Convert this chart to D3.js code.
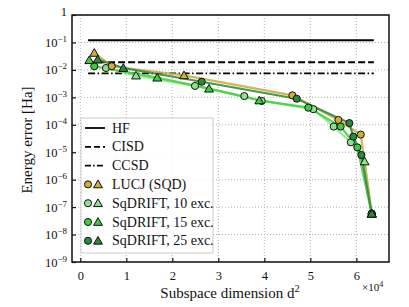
<!DOCTYPE html>
<html>
<head>
<meta charset="utf-8">
<script src="https://cdn.jsdelivr.net/npm/d3@7"></script>
<style>
  body { margin: 0; background: #fff; }
  svg text { font-family: "Liberation Serif", "Times New Roman", serif !important; fill: #111; }
</style>
</head>
<body>
<div id="chart"></div>
<script>
// reference energies (horizontal lines)
const refNames = ["HF", "CISD", "CCSD"];
const refValues = [0.12, 0.019, 0.0075];
const refSpan = [1700, 63800];

// LUCJ (SQD)
const lucjCircX = [6830, 46100, 56090, 60960, 63350];
const lucjCircY = [0.0136, 0.00118, 1.5e-4, 4.4e-5, 5.7e-8];
const lucjTriX = [3040, 22540, 63350];
const lucjTriY = [0.0416, 0.0063, 5.7e-8];

// SqDRIFT, 10 exc.
const sq10CircX = [5590, 24930, 35650, 39430, 50650, 55080, 58800, 63350];
const sq10CircY = [0.0117, 0.0026, 0.00111, 0.00074, 0.00037, 8.6e-5, 2.3e-5, 5.7e-8];
const sq10TriX = [12110, 61800, 63350];
const sq10TriY = [0.0062, 4.6e-6, 5.7e-8];

// SqDRIFT, 15 exc.
const sq15CircX = [3040, 49570, 56600, 60220, 63350];
const sq15CircY = [0.0136, 0.00042, 8.6e-5, 1.5e-5, 5.7e-8];
const sq15TriX = [1960, 16740, 27980, 38910, 63350];
const sq15TriY = [0.0225, 0.0052, 0.00207, 0.00077, 5.7e-8];

// SqDRIFT, 25 exc.
const sq25CircX = [26390, 47040, 58480, 59350, 61090, 63350];
const sq25CircY = [0.0037, 0.00089, 1.15e-4, 3.7e-5, 7.9e-6, 5.7e-8];
const sq25TriX = [3780, 9350, 63350];
const sq25TriY = [0.0238, 0.0117, 5.7e-8];

const xTicks = [0, 10000, 20000, 30000, 40000, 50000, 60000];
const yExps = [0, -1, -2, -3, -4, -5, -6, -7, -8, -9];

const series = [
  { name: "SqDRIFT, 10 exc.", color: "#8de38d", line: "#8ee68e", cx: sq10CircX, cy: sq10CircY, tx: sq10TriX, ty: sq10TriY },
  { name: "SqDRIFT, 15 exc.", color: "#3fcc3f", line: "#44d044", cx: sq15CircX, cy: sq15CircY, tx: sq15TriX, ty: sq15TriY },
  { name: "LUCJ (SQD)", color: "#d1ad3a", line: "#cdae42", cx: lucjCircX, cy: lucjCircY, tx: lucjTriX, ty: lucjTriY },
  { name: "SqDRIFT, 25 exc.", color: "#2a8a3c", line: "#2f8f40", cx: sq25CircX, cy: sq25CircY, tx: sq25TriX, ty: sq25TriY }
];
const legendOrder = [2, 0, 1, 3];

const FONT = "Liberation Serif, Times New Roman, serif";
const w = 409, h = 307;
const pLeft = 72, pRight = 389, pTop = 15, pBottom = 262;

const svg = d3.select("#chart").append("svg")
  .attr("width", w).attr("height", h)
  .attr("font-family", FONT);

const xScale = d3.scaleLinear().domain([-1800, 67100]).range([pLeft, pRight]);
const yScale = d3.scaleLog().domain([1e-9, 1]).range([pBottom, pTop]);

// grid
const grid = svg.append("g");
xTicks.forEach(t => {
  grid.append("line")
    .attr("x1", xScale(t)).attr("x2", xScale(t))
    .attr("y1", pTop).attr("y2", pBottom)
    .attr("stroke", "#b0b0b0").attr("stroke-width", 1).attr("stroke-dasharray", "1,2");
});
yExps.forEach(e => {
  grid.append("line")
    .attr("x1", pLeft).attr("x2", pRight)
    .attr("y1", yScale(Math.pow(10, e))).attr("y2", yScale(Math.pow(10, e)))
    .attr("stroke", "#b0b0b0").attr("stroke-width", 1).attr("stroke-dasharray", "1,2");
});

// reference lines
const dashes = [null, "7,3", "7,2.5,1.5,2.5"];
refValues.forEach((v, i) => {
  svg.append("line")
    .attr("x1", xScale(refSpan[0])).attr("x2", xScale(refSpan[1]))
    .attr("y1", yScale(v)).attr("y2", yScale(v))
    .attr("stroke", "#000").attr("stroke-width", 1.8)
    .attr("stroke-dasharray", dashes[i]);
});

// series lines
let line = d3.line().x(d => xScale(d[0])).y(d => yScale(d[1]));
series.forEach(s => {
  let pts = s.cx.map((x, i) => [x, s.cy[i]]).concat(s.tx.map((x, i) => [x, s.ty[i]]));
  pts.sort((a, b) => a[0] - b[0]);
  pts = pts.filter((p, i) => i == 0 || p[0] != pts[i - 1][0] || p[1] != pts[i - 1][1]);
  svg.append("path")
    .attr("d", line(pts))
    .attr("fill", "none")
    .attr("stroke", s.line)
    .attr("stroke-width", 2.2)
    .attr("stroke-opacity", 0.9);
});

const tri = d3.symbol().type(d3.symbolTriangle).size(34);
const circ = d3.symbol().type(d3.symbolCircle).size(40);

// markers
series.forEach(s => {
  s.cx.forEach((x, i) => {
    svg.append("path").attr("d", circ())
      .attr("transform", "translate(" + xScale(x) + "," + yScale(s.cy[i]) + ")")
      .attr("fill", s.color).attr("stroke", "#111").attr("stroke-width", 1);
  });
  s.tx.forEach((x, i) => {
    svg.append("path").attr("d", tri())
      .attr("transform", "translate(" + xScale(x) + "," + (yScale(s.ty[i]) + 0.8) + ")")
      .attr("fill", s.color).attr("stroke", "#111").attr("stroke-width", 1);
  });
});

// frame
svg.append("rect")
  .attr("x", pLeft).attr("y", pTop)
  .attr("width", pRight - pLeft).attr("height", pBottom - pTop)
  .attr("fill", "none").attr("stroke", "#111").attr("stroke-width", 1.5);

// axes (inward ticks)
let xAxis = d3.axisBottom(xScale).tickValues(xTicks).tickSize(-4).tickFormat(d => d / 10000);
let gx = svg.append("g").attr("transform", "translate(0," + pBottom + ")").call(xAxis)
  .attr("font-family", FONT);
gx.select(".domain").remove();
gx.selectAll(".tick line").attr("stroke", "#111").attr("stroke-width", 1.2);
gx.selectAll(".tick text").attr("y", 9).attr("font-size", 12.5).attr("fill", "#111");

let yAxis = d3.axisLeft(yScale).tickValues(yExps.map(e => Math.pow(10, e))).tickSize(-4).tickFormat("");
let gy = svg.append("g").attr("transform", "translate(" + pLeft + ",0)").call(yAxis);
gy.select(".domain").remove();
gy.selectAll(".tick line").attr("stroke", "#111").attr("stroke-width", 1.2);

yExps.forEach(e => {
  let t = svg.append("text")
    .attr("x", 67).attr("y", yScale(Math.pow(10, e)) + 4.5)
    .attr("text-anchor", "end").attr("font-size", 12.5);
  if (e == 0) {
    t.attr("y", yScale(1) + 1).text("1");
  } else {
    t.append("tspan").text("10");
    t.append("tspan").attr("dy", -5).attr("font-size", 9).text("\u2212" + (-e));
  }
});

// axis labels
let xl = svg.append("text").attr("x", 230).attr("y", 298)
  .attr("text-anchor", "middle").attr("font-size", 15);
xl.append("tspan").text("Subspace dimension d");
xl.append("tspan").attr("dy", -6).attr("font-size", 10.5).text("2");

let off = svg.append("text").attr("x", 362).attr("y", 291).attr("font-size", 11);
off.append("tspan").text("\u00d710");
off.append("tspan").attr("dy", -4).attr("font-size", 8).text("4");

svg.append("text")
  .attr("transform", "translate(32,140) rotate(-90)")
  .attr("text-anchor", "middle").attr("font-size", 15)
  .text("Energy error [Ha]");

// legend
let lg = svg.append("g");
lg.append("rect")
  .attr("x", 81).attr("y", 118).attr("width", 132).attr("height", 135)
  .attr("fill", "#fff").attr("fill-opacity", 0.85)
  .attr("stroke", "#cccccc").attr("stroke-width", 1);

let rowY = i => 128 + i * 18.8;
refNames.forEach((n, i) => {
  lg.append("line")
    .attr("x1", 85).attr("x2", 105).attr("y1", rowY(i)).attr("y2", rowY(i))
    .attr("stroke", "#000").attr("stroke-width", 1.8)
    .attr("stroke-dasharray", dashes[i] == null ? null : (i == 1 ? "6,3" : "6,2.2,1.5,2.2"));
  lg.append("text").attr("x", 112).attr("y", rowY(i) + 4.5)
    .attr("font-size", 14).text(n);
});
legendOrder.forEach((k, j) => {
  let s = series[k];
  let yy = rowY(3 + j);
  lg.append("path").attr("d", circ())
    .attr("transform", "translate(88," + yy + ")")
    .attr("fill", s.color).attr("stroke", "#111").attr("stroke-width", 1);
  lg.append("path").attr("d", tri())
    .attr("transform", "translate(98," + (yy + 0.8) + ")")
    .attr("fill", s.color).attr("stroke", "#111").attr("stroke-width", 1);
  lg.append("text").attr("x", 112).attr("y", yy + 4.5)
    .attr("font-size", 14).text(s.name);
});
</script>
</body>
</html>
